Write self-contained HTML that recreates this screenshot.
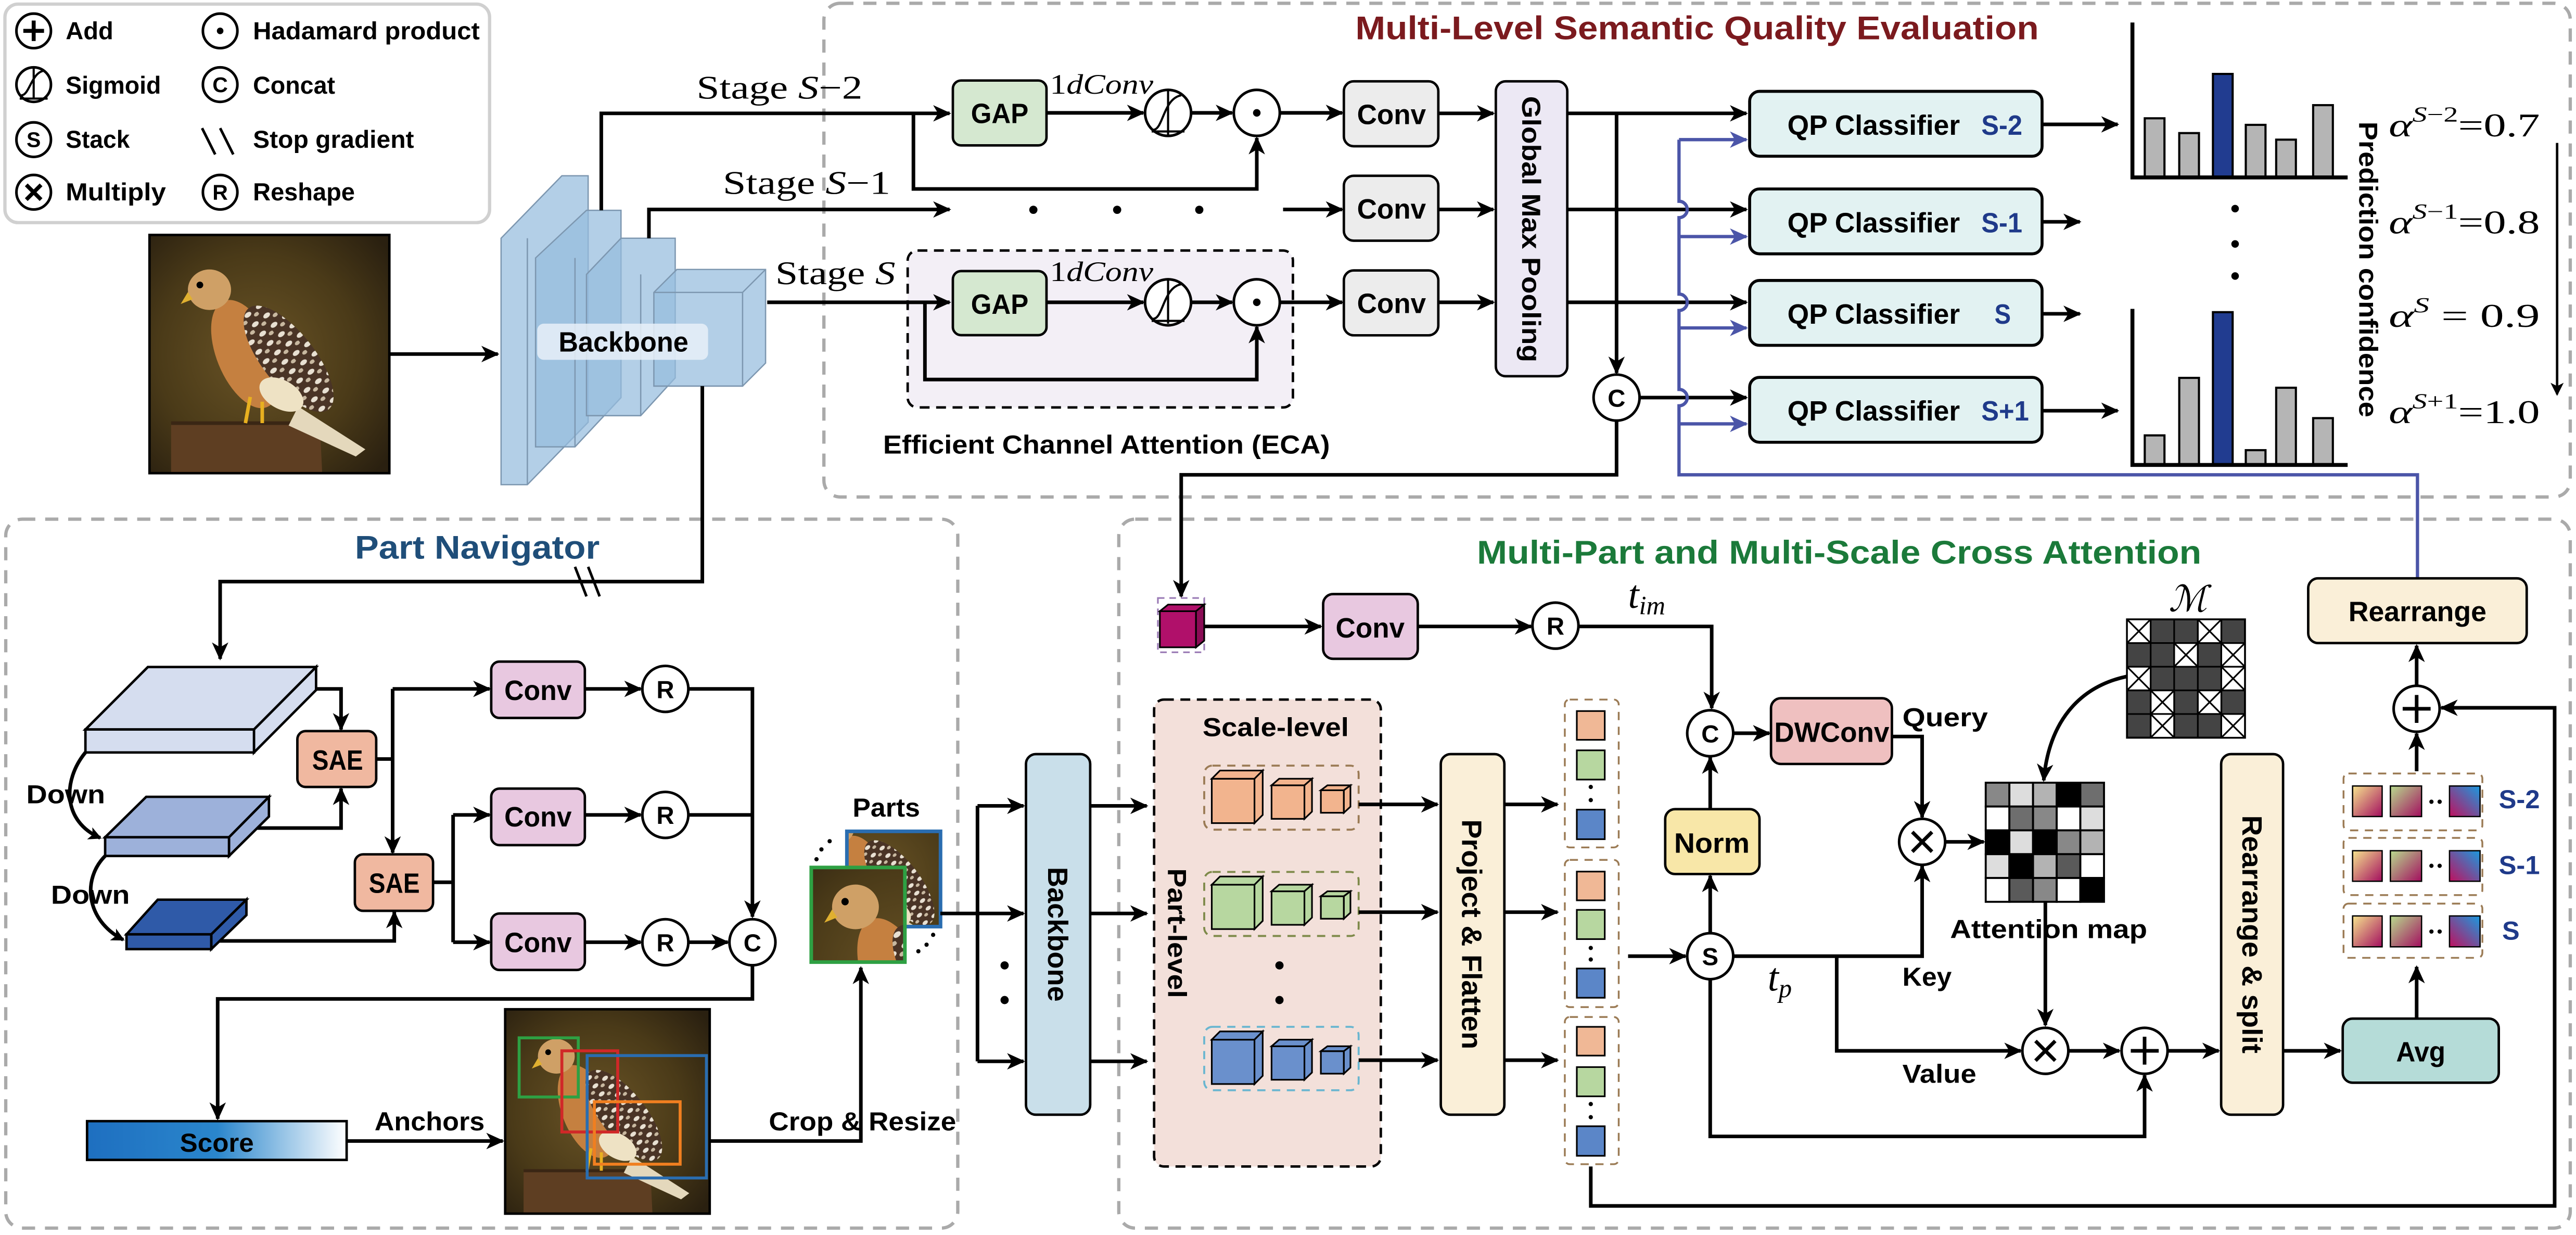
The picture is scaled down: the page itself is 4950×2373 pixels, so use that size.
<!DOCTYPE html>
<html><head><meta charset="utf-8"><style>
html,body{margin:0;padding:0;background:#fff;}
svg{display:block;}
.b{font-family:"Liberation Sans",sans-serif;font-weight:bold;}
.s{font-family:"Liberation Serif",serif;}
</style></head><body>
<svg width="4950" height="2373" viewBox="0 0 1568 751.7" preserveAspectRatio="none" xmlns="http://www.w3.org/2000/svg">
<defs>
<marker id="a" markerWidth="11" markerHeight="10" refX="10" refY="5" orient="auto" markerUnits="userSpaceOnUse"><path d="M0,0 L11,5 L0,10 L3,5 z" fill="#000"/></marker>
<marker id="ab" markerWidth="11" markerHeight="10" refX="10" refY="5" orient="auto" markerUnits="userSpaceOnUse"><path d="M0,0 L11,5 L0,10 L3,5 z" fill="#4b55a8"/></marker>
<marker id="at" markerWidth="8" markerHeight="8" refX="7" refY="4" orient="auto" markerUnits="userSpaceOnUse"><path d="M0,0 L8,4 L0,8 L2,4 z" fill="#000"/></marker>
<linearGradient id="sc" x1="0" x2="1" y1="0" y2="0"><stop offset="0" stop-color="#1e6fc0"/><stop offset="0.5" stop-color="#2a86cc"/><stop offset="1" stop-color="#ffffff"/></linearGradient>
<radialGradient id="bg" cx="0.45" cy="0.5" r="0.7"><stop offset="0" stop-color="#6a5426"/><stop offset="0.6" stop-color="#4a3a18"/><stop offset="1" stop-color="#2a2010"/></radialGradient>
<linearGradient id="g1" x1="0" y1="0" x2="1" y2="1"><stop offset="0" stop-color="#f6e58e"/><stop offset="1" stop-color="#a30d5e"/></linearGradient>
<linearGradient id="g2" x1="0" y1="0" x2="1" y2="1"><stop offset="0" stop-color="#b8dc8e"/><stop offset="1" stop-color="#a30d5e"/></linearGradient>
<linearGradient id="g3" x1="1" y1="0" x2="0" y2="1"><stop offset="0" stop-color="#1a9ae0"/><stop offset="1" stop-color="#c0105e"/></linearGradient>
<pattern id="spk" width="6" height="5" patternUnits="userSpaceOnUse"><rect width="6" height="5" fill="#4a3426"/><ellipse cx="2" cy="2" rx="1.6" ry="1" fill="#e8e0d2"/><ellipse cx="5" cy="4" rx="1.2" ry="0.8" fill="#c8b8a0"/></pattern>
<g id="bird">
<rect x="0" y="0" width="100" height="100" fill="url(#bg)"/>
<path d="M9,79 L71,79 L72,100 L9,100 z" fill="#5e3e22"/>
<path d="M9,79 L71,79" stroke="#3a2614" stroke-width="1.5"/>
<polygon points="62,72 90,90 86,93 58,80" fill="#e4d8bc"/>
<ellipse cx="40" cy="50" rx="12" ry="24" fill="#c58040" transform="rotate(-22 40 50)"/>
<ellipse cx="58" cy="52" rx="11" ry="27" fill="url(#spk)" transform="rotate(-38 58 52)"/>
<ellipse cx="55" cy="67" rx="10" ry="6" fill="#eee2c4" transform="rotate(30 55 67)"/>
<ellipse cx="25" cy="23" rx="9" ry="8.5" fill="#cfa066"/>
<path d="M16,24 L13,29 L18,27 z" fill="#e0b030"/>
<circle cx="21" cy="21" r="1.4" fill="#000"/>
<path d="M42,68 L40,79 M47,70 L47,79" stroke="#e8b020" stroke-width="1.5"/>
</g>
</defs>

<!-- Legend -->
<rect x="3" y="2.5" width="295" height="133" rx="8" fill="#fff" stroke="#d0d0d0" stroke-width="2"/>
<g fill="#fff" stroke="#000" stroke-width="1.6">
<circle cx="20.5" cy="18.8" r="10.5"/><circle cx="20.5" cy="51.5" r="10.5"/><circle cx="20.5" cy="85" r="10.5"/><circle cx="20.5" cy="117" r="10.5"/>
<circle cx="134" cy="18.8" r="10.5"/><circle cx="134" cy="51.5" r="10.5"/><circle cx="134" cy="117" r="10.5"/>
</g>
<path d="M20.5,12.5 V25 M14.2,18.8 H26.8" stroke="#000" stroke-width="2.4"/>
<circle cx="134" cy="18.8" r="2" fill="#000"/>
<path d="M12,60 H29 M20.5,41 V60 M13,58 C18,58 19,44 27,43" stroke="#000" stroke-width="1.3" fill="none"/>
<path d="M16,112.5 L25,121.5 M25,112.5 L16,121.5" stroke="#000" stroke-width="2.4"/>
<g class="b" font-size="13" text-anchor="middle"><text x="20.5" y="89.5">S</text><text x="134" y="56">C</text><text x="134" y="121.5">R</text></g>
<path d="M123,78 L131,94 M134,78 L142,94" stroke="#000" stroke-width="1.6"/>
<g class="b" font-size="15">
<text x="40" y="24" textLength="29" lengthAdjust="spacingAndGlyphs">Add</text>
<text x="154" y="24" textLength="138" lengthAdjust="spacingAndGlyphs">Hadamard product</text>
<text x="40" y="57" textLength="58" lengthAdjust="spacingAndGlyphs">Sigmoid</text>
<text x="154" y="57" textLength="50" lengthAdjust="spacingAndGlyphs">Concat</text>
<text x="40" y="90" textLength="39" lengthAdjust="spacingAndGlyphs">Stack</text>
<text x="154" y="90" textLength="98" lengthAdjust="spacingAndGlyphs">Stop gradient</text>
<text x="40" y="122" textLength="61" lengthAdjust="spacingAndGlyphs">Multiply</text>
<text x="154" y="122" textLength="62" lengthAdjust="spacingAndGlyphs">Reshape</text>
</g>

<!-- Boxes dashed -->
<rect x="501.5" y="2" width="1063" height="300.5" rx="10" fill="none" stroke="#aaa" stroke-width="2" stroke-dasharray="8,6"/>
<rect x="3.5" y="316" width="579.5" height="431.5" rx="10" fill="none" stroke="#aaa" stroke-width="2" stroke-dasharray="8,6"/>
<rect x="681" y="316" width="883.5" height="431.5" rx="10" fill="none" stroke="#aaa" stroke-width="2" stroke-dasharray="8,6"/>

<text class="b" x="825" y="24" font-size="20" fill="#7b1a1e" textLength="416" lengthAdjust="spacingAndGlyphs">Multi-Level Semantic Quality Evaluation</text>
<text class="b" x="216" y="340" font-size="20" fill="#1f4e79" textLength="149" lengthAdjust="spacingAndGlyphs">Part Navigator</text>
<text class="b" x="899" y="343" font-size="20" fill="#1b7a3a" textLength="441" lengthAdjust="spacingAndGlyphs">Multi-Part and Multi-Scale Cross Attention</text>

<!-- bird -->
<g transform="translate(91,143) scale(1.46,1.45)"><use href="#bird"/></g>
<rect x="91" y="143" width="146" height="145" fill="none" stroke="#000" stroke-width="1.5"/>
<path d="M237,215.5 H303" stroke="#000" stroke-width="2.2" marker-end="url(#a)"/>

<!-- Backbone slabs -->
<g fill="rgba(150,188,222,0.72)" stroke="#7d97b0" stroke-width="0.8">
<polygon points="305,145 342,107 358,107 358,257 321,295 305,295"/>
<polygon points="326,157 357,128 378,128 378,242 350,272 326,272"/>
<polygon points="357,167 378,145 411,145 411,230 390,253 357,253"/>
<polygon points="398,178 412,164 466,164 466,221 452,235 398,235"/>
</g>
<path d="M321,145 V295 M350,157 V272 M390,167 V253 M452,178 V235 H398 M398,178 H452 L466,164" stroke="#7d97b0" stroke-width="0.8" fill="none"/>
<rect x="327" y="197" width="104" height="22" rx="4" fill="rgba(232,240,248,0.85)"/>
<text class="b" x="340" y="214" font-size="17" textLength="79" lengthAdjust="spacingAndGlyphs">Backbone</text>

<!-- ECA box -->
<rect x="552.5" y="152.5" width="234.5" height="95.5" rx="6" fill="#f3eff6" stroke="#000" stroke-width="1.5" stroke-dasharray="6,4"/>
<text class="b" x="537.5" y="276" font-size="16" textLength="272" lengthAdjust="spacingAndGlyphs">Efficient Channel Attention (ECA)</text>

<!-- top lines -->
<g stroke="#000" stroke-width="2.2" fill="none">
<path d="M366,128 V69 H578" marker-end="url(#a)"/>
<path d="M556,69 V115 H765 V84" marker-end="url(#a)"/>
<path d="M395,145 V127.5 H578" marker-end="url(#a)"/>
<path d="M467,184 H578" marker-end="url(#a)"/>
<path d="M563,184 V231 H765 V199" marker-end="url(#a)"/>
<path d="M637,68.7 H696" marker-end="url(#a)"/>
<path d="M725,68.7 H750" marker-end="url(#a)"/>
<path d="M779,68.7 H817" marker-end="url(#a)"/>
<path d="M637,184 H696" marker-end="url(#a)"/>
<path d="M725,184 H750" marker-end="url(#a)"/>
<path d="M779,184 H817" marker-end="url(#a)"/>
<path d="M781,127.5 H817" marker-end="url(#a)"/>
<path d="M875.5,69 H909" marker-end="url(#a)"/>
<path d="M875.5,127.5 H909" marker-end="url(#a)"/>
<path d="M875.5,184 H909" marker-end="url(#a)"/>
<path d="M954,69 H1063" marker-end="url(#a)"/>
<path d="M954,127.5 H1063" marker-end="url(#a)"/>
<path d="M954,184 H1063" marker-end="url(#a)"/>
<path d="M984,69 V227" marker-end="url(#a)"/>
<path d="M998,242 H1063" marker-end="url(#a)"/>
<path d="M984,256 V289 H719 V363" marker-end="url(#a)"/>
<path d="M1243,75.7 H1289" marker-end="url(#a)"/>
<path d="M1243,135 H1266" marker-end="url(#a)"/>
<path d="M1243,191 H1266" marker-end="url(#a)"/>
<path d="M1243,250 H1289" marker-end="url(#a)"/>
</g>
<g fill="#000"><circle cx="629" cy="127.7" r="2.5"/><circle cx="680" cy="127.7" r="2.5"/><circle cx="730" cy="127.7" r="2.5"/></g>

<g class="s" font-size="20">
<text x="424" y="60" textLength="101" lengthAdjust="spacingAndGlyphs">Stage <tspan font-style="italic">S</tspan>−2</text>
<text x="440" y="118" textLength="102" lengthAdjust="spacingAndGlyphs">Stage <tspan font-style="italic">S</tspan>−1</text>
<text x="472" y="173" textLength="73" lengthAdjust="spacingAndGlyphs">Stage <tspan font-style="italic">S</tspan></text>
</g>
<g class="s" font-size="17" font-style="italic">
<text x="639" y="57" textLength="63" lengthAdjust="spacingAndGlyphs"><tspan font-style="normal">1</tspan>dConv</text>
<text x="639" y="171" textLength="63" lengthAdjust="spacingAndGlyphs"><tspan font-style="normal">1</tspan>dConv</text>
</g>

<!-- GAP -->
<g stroke="#000" stroke-width="1.5">
<rect x="580" y="49" width="57" height="39.5" rx="5" fill="#d5e8d0"/>
<rect x="580" y="165" width="57" height="39" rx="5" fill="#d5e8d0"/>
</g>
<g class="b" font-size="17"><text x="591" y="75" textLength="35" lengthAdjust="spacingAndGlyphs">GAP</text><text x="591" y="191" textLength="35" lengthAdjust="spacingAndGlyphs">GAP</text></g>
<!-- sigmoid & hadamard -->
<g fill="#fff" stroke="#000" stroke-width="1.6">
<circle cx="711" cy="68.7" r="14"/><circle cx="765" cy="68.7" r="14"/>
<circle cx="711" cy="184" r="14"/><circle cx="765" cy="184" r="14"/>
</g>
<path d="M701,80 H721 M711,55 V82 M702,79 C708,79 708,60 719,58 M701,195.3 H721 M711,170 V197 M702,194 C708,194 708,175 719,173" stroke="#000" stroke-width="1.3" fill="none"/>
<circle cx="765" cy="68.7" r="2.3"/><circle cx="765" cy="184" r="2.3"/>

<!-- Conv gray -->
<g stroke="#000" stroke-width="1.5" fill="#ececec">
<rect x="818" y="49.5" width="57.5" height="39.5" rx="6"/>
<rect x="818" y="107" width="57.5" height="39.5" rx="6"/>
<rect x="818" y="164.6" width="57.5" height="39.5" rx="6"/>
</g>
<g class="b" font-size="17"><text x="826" y="75.5" textLength="42" lengthAdjust="spacingAndGlyphs">Conv</text><text x="826" y="133" textLength="42" lengthAdjust="spacingAndGlyphs">Conv</text><text x="826" y="190.5" textLength="42" lengthAdjust="spacingAndGlyphs">Conv</text></g>

<rect x="910.5" y="49.5" width="43.5" height="179.5" rx="6" fill="#ece8f4" stroke="#000" stroke-width="1.5"/>
<text class="b" font-size="16" text-anchor="middle" transform="translate(926.5,139.5) rotate(90)" textLength="162" lengthAdjust="spacingAndGlyphs">Global Max Pooling</text>

<circle cx="984" cy="242" r="14" fill="#fff" stroke="#000" stroke-width="1.6"/>
<text class="b" x="984" y="247.5" font-size="15" text-anchor="middle">C</text>

<!-- blue -->
<path d="M1471.5,352 V289 H1022 V247 A5,5 0 0 0 1022,237 V189 A5,5 0 0 0 1022,179 V132.5 A5,5 0 0 0 1022,122.5 V85" stroke="#4b55a8" stroke-width="2" fill="none"/>
<g stroke="#4b55a8" stroke-width="2"><path d="M1022,85 H1063" marker-end="url(#ab)"/><path d="M1022,144 H1063" marker-end="url(#ab)"/><path d="M1022,199.6 H1063" marker-end="url(#ab)"/><path d="M1022,258 H1063" marker-end="url(#ab)"/></g>

<!-- QP -->
<g stroke="#000" stroke-width="1.8" fill="#e2f2f2">
<rect x="1065" y="55.6" width="178" height="39.5" rx="6"/>
<rect x="1065" y="115" width="178" height="39.5" rx="6"/>
<rect x="1065" y="170.7" width="178" height="39.5" rx="6"/>
<rect x="1065" y="229.7" width="178" height="39.5" rx="6"/>
</g>
<g class="b" font-size="17">
<text x="1088" y="82" textLength="105" lengthAdjust="spacingAndGlyphs">QP Classifier</text>
<text x="1088" y="141.5" textLength="105" lengthAdjust="spacingAndGlyphs">QP Classifier</text>
<text x="1088" y="197" textLength="105" lengthAdjust="spacingAndGlyphs">QP Classifier</text>
<text x="1088" y="256" textLength="105" lengthAdjust="spacingAndGlyphs">QP Classifier</text>
</g>
<g class="b" font-size="17" fill="#1f3a8a">
<text x="1206" y="82" textLength="25" lengthAdjust="spacingAndGlyphs">S-2</text>
<text x="1206" y="141.5" textLength="25" lengthAdjust="spacingAndGlyphs">S-1</text>
<text x="1214" y="197" textLength="10" lengthAdjust="spacingAndGlyphs">S</text>
<text x="1206" y="256" textLength="29" lengthAdjust="spacingAndGlyphs">S+1</text>
</g>

<!-- charts -->
<g stroke="#000" stroke-width="1.3">
<g fill="#b5b5b5"><rect x="1305.5" y="72" width="12" height="36"/><rect x="1326.5" y="81" width="12" height="27"/><rect x="1367" y="76" width="12" height="32"/><rect x="1385.5" y="85" width="12" height="23"/><rect x="1408" y="64" width="12" height="44"/></g>
<rect x="1347" y="45" width="12" height="63" fill="#213c90"/>
<g fill="#b5b5b5"><rect x="1305.5" y="265" width="12" height="18"/><rect x="1326.5" y="230" width="12" height="53"/><rect x="1367" y="274" width="12" height="9"/><rect x="1385.5" y="236" width="12" height="47"/><rect x="1408" y="254.5" width="12" height="28.5"/></g>
<rect x="1347" y="190" width="12" height="93" fill="#213c90"/>
</g>
<path d="M1298,13.7 V108 H1429 M1298,188 V283 H1429" stroke="#000" stroke-width="2.4" fill="none"/>
<g fill="#000"><circle cx="1360.5" cy="127" r="2.3"/><circle cx="1360.5" cy="148.5" r="2.3"/><circle cx="1360.5" cy="168" r="2.3"/></g>
<text class="b" font-size="16" text-anchor="middle" transform="translate(1436,164) rotate(90)" textLength="180" lengthAdjust="spacingAndGlyphs">Prediction confidence</text>
<g class="s" font-size="20">
<text x="1454" y="83" textLength="92" lengthAdjust="spacingAndGlyphs"><tspan font-style="italic">α</tspan><tspan font-size="13" dy="-9"><tspan font-style="italic">S</tspan>−2</tspan><tspan dy="9">=0.7</tspan></text>
<text x="1454" y="142" textLength="92" lengthAdjust="spacingAndGlyphs"><tspan font-style="italic">α</tspan><tspan font-size="13" dy="-9"><tspan font-style="italic">S</tspan>−1</tspan><tspan dy="9">=0.8</tspan></text>
<text x="1454" y="199" textLength="92" lengthAdjust="spacingAndGlyphs"><tspan font-style="italic">α</tspan><tspan font-size="13" dy="-9" font-style="italic">S</tspan><tspan dy="9">  =  0.9</tspan></text>
<text x="1454" y="257.5" textLength="92" lengthAdjust="spacingAndGlyphs"><tspan font-style="italic">α</tspan><tspan font-size="13" dy="-9"><tspan font-style="italic">S</tspan>+1</tspan><tspan dy="9">=1.0</tspan></text>
</g>
<path d="M1556.5,87 V240" stroke="#000" stroke-width="1.5" marker-end="url(#at)"/>

<!-- ============ Part Navigator ============ -->
<g stroke="#000" stroke-width="2.2" fill="none">
<path d="M427.5,235 V354 H134 V401" marker-end="url(#a)"/>
<path d="M192.4,419.3 H207.6 V444" marker-end="url(#a)"/>
<path d="M156,504 H207.6 V480" marker-end="url(#a)"/>
<path d="M229,462 H239"/>
<path d="M239,419.3 V519" marker-end="url(#a)"/>
<path d="M239,419.3 H298" marker-end="url(#a)"/>
<path d="M132.5,572.7 H240 V555" marker-end="url(#a)"/>
<path d="M263.6,537 H275.8"/>
<path d="M275.8,496 V573.5"/>
<path d="M275.8,496 H298" marker-end="url(#a)"/>
<path d="M275.8,573.5 H298" marker-end="url(#a)"/>
<path d="M356,419.3 H390" marker-end="url(#a)"/>
<path d="M356,496 H390" marker-end="url(#a)"/>
<path d="M356,573.5 H390" marker-end="url(#a)"/>
<path d="M419,419.3 H458 V558" marker-end="url(#a)"/>
<path d="M419,496 H458"/>
<path d="M419,573.5 H443" marker-end="url(#a)"/>
<path d="M458,587.5 V608 H132.5 V681" marker-end="url(#a)"/>
<path d="M211,694.5 H306" marker-end="url(#a)"/>
<path d="M432,694.5 H524 V589" marker-end="url(#a)"/>
<path d="M52,458 C38,475 38,500 61,510" marker-end="url(#at)"/>
<path d="M64,521 C50,535 52,560 75,572" marker-end="url(#at)"/>
</g>
<path d="M350,345 L357,363 M358,345 L365,363" stroke="#000" stroke-width="1.6"/>

<!-- slabs -->
<g stroke="#000" stroke-width="1.5">
<polygon points="52,444 90,406 192.4,406 154.6,444" fill="#d5ddef"/>
<polygon points="154.6,444 192.4,406 192.4,420 154.6,458" fill="#d5ddef"/>
<rect x="52" y="444" width="102.6" height="14" fill="#d5ddef"/>
<polygon points="64,509.6 89,485 163.7,485 139.4,509.6" fill="#9db1da"/>
<polygon points="139.4,509.6 163.7,485 163.7,497 139.4,521" fill="#9db1da"/>
<rect x="64" y="509.6" width="75.4" height="11.4" fill="#9db1da"/>
<polygon points="77,568.7 96,547.6 150,547.6 128.6,568.7" fill="#2f5aa8"/>
<polygon points="128.6,568.7 150,547.6 150,557 128.6,577.7" fill="#2f5aa8"/>
<rect x="77" y="568.7" width="51.6" height="9" fill="#2f5aa8"/>
</g>
<g class="b" font-size="16"><text x="16" y="489" textLength="48" lengthAdjust="spacingAndGlyphs">Down</text><text x="31" y="550" textLength="48" lengthAdjust="spacingAndGlyphs">Down</text></g>

<g stroke="#000" stroke-width="1.5">
<rect x="181" y="445" width="48" height="34" rx="5" fill="#f0b8a0"/>
<rect x="216" y="520" width="47.6" height="34.4" rx="5" fill="#f0b8a0"/>
<rect x="299" y="402.7" width="57" height="34.3" rx="5" fill="#e8c8e0"/>
<rect x="299" y="480" width="57" height="34.4" rx="5" fill="#e8c8e0"/>
<rect x="299" y="556" width="57" height="34.4" rx="5" fill="#e8c8e0"/>
</g>
<g class="b" font-size="17">
<text x="190" y="468.5" textLength="31" lengthAdjust="spacingAndGlyphs">SAE</text>
<text x="224.5" y="543.5" textLength="31" lengthAdjust="spacingAndGlyphs">SAE</text>
<text x="307" y="426" textLength="41" lengthAdjust="spacingAndGlyphs">Conv</text>
<text x="307" y="503" textLength="41" lengthAdjust="spacingAndGlyphs">Conv</text>
<text x="307" y="579.5" textLength="41" lengthAdjust="spacingAndGlyphs">Conv</text>
</g>
<g fill="#fff" stroke="#000" stroke-width="1.6">
<circle cx="405" cy="419.3" r="14"/><circle cx="405" cy="496" r="14"/><circle cx="405" cy="573.5" r="14"/><circle cx="458" cy="573.5" r="14"/>
</g>
<g class="b" font-size="15" text-anchor="middle"><text x="405" y="425">R</text><text x="405" y="501.5">R</text><text x="405" y="579">R</text><text x="458" y="579">C</text></g>

<rect x="53" y="682.4" width="158" height="23.6" fill="url(#sc)" stroke="#000" stroke-width="1.5"/>
<text class="b" x="132" y="701" font-size="16" text-anchor="middle" textLength="45" lengthAdjust="spacingAndGlyphs">Score</text>
<text class="b" x="228" y="688" font-size="16" textLength="67" lengthAdjust="spacingAndGlyphs">Anchors</text>
<text class="b" x="468" y="688" font-size="16" textLength="114" lengthAdjust="spacingAndGlyphs">Crop &amp; Resize</text>

<g transform="translate(307.5,614.3) scale(1.245,1.244)"><use href="#bird"/></g>
<rect x="307.5" y="614.3" width="124.5" height="124.4" fill="none" stroke="#000" stroke-width="1.5"/>
<g fill="none" stroke-width="1.8">
<rect x="316" y="631.7" width="36" height="36" stroke="#2ea043"/>
<rect x="342" y="639.6" width="34" height="49.4" stroke="#d02828"/>
<rect x="357.4" y="642.5" width="72.6" height="74.5" stroke="#2a6db0"/>
<rect x="361.8" y="670.6" width="52.2" height="38" stroke="#f07f20"/>
</g>

<!-- parts -->
<svg x="515.5" y="506" width="57" height="58" viewBox="30 25 50 50" preserveAspectRatio="none"><use href="#bird"/></svg>
<rect x="515.5" y="506" width="57" height="58" fill="none" stroke="#2a6db0" stroke-width="2.2"/>
<svg x="493.8" y="528" width="57" height="57.6" viewBox="8 8 36 36" preserveAspectRatio="none"><use href="#bird"/></svg>
<rect x="493.8" y="528" width="57" height="57.6" fill="none" stroke="#2ea043" stroke-width="2.2"/>
<text class="b" x="519" y="497" font-size="16" textLength="41" lengthAdjust="spacingAndGlyphs">Parts</text>
<g fill="#000"><circle cx="497" cy="523" r="1.3"/><circle cx="500" cy="517" r="1.3"/><circle cx="505" cy="512" r="1.3"/><circle cx="559" cy="579" r="1.3"/><circle cx="564" cy="575" r="1.3"/><circle cx="568" cy="569" r="1.3"/></g>

<g stroke="#000" stroke-width="2.2" fill="none">
<path d="M572.4,556 H623" marker-end="url(#a)"/>
<path d="M595,490.5 V646"/>
<path d="M595,490.5 H623" marker-end="url(#a)"/>
<path d="M595,646 H623" marker-end="url(#a)"/>
</g>
<g fill="#000"><circle cx="611.5" cy="587.6" r="2.5"/><circle cx="611.5" cy="608.7" r="2.5"/></g>
<rect x="624.5" y="459" width="39.1" height="219.5" rx="6" fill="#c9dfea" stroke="#000" stroke-width="1.5"/>
<text class="b" font-size="17" text-anchor="middle" transform="translate(638,568.7) rotate(90)" textLength="82" lengthAdjust="spacingAndGlyphs">Backbone</text>

<!-- ============ MPMS ============ -->
<g stroke="#000" stroke-width="2.2" fill="none">
<path d="M663.6,490.5 H698" marker-end="url(#a)"/>
<path d="M663.6,556 H698" marker-end="url(#a)"/>
<path d="M663.6,646 H698" marker-end="url(#a)"/>
</g>
<rect x="702.5" y="425.8" width="138" height="284.2" rx="6" fill="#f3e0da" stroke="#000" stroke-width="1.5" stroke-dasharray="6,4"/>
<text class="b" x="732" y="448" font-size="16" textLength="89" lengthAdjust="spacingAndGlyphs">Scale-level</text>
<text class="b" font-size="16" text-anchor="middle" transform="translate(711,568) rotate(90)" textLength="79" lengthAdjust="spacingAndGlyphs">Part-level</text>

<g fill="none" stroke-width="1.2" stroke-dasharray="5,4">
<rect x="733" y="466" width="94" height="39" rx="5" stroke="#9b7b55"/>
<rect x="733" y="530.7" width="94" height="39" rx="5" stroke="#7e8a4a"/>
<rect x="733" y="625" width="94" height="38.6" rx="5" stroke="#6ab6d0"/>
</g>
<g stroke="#000" stroke-width="1">
<g fill="#f2b48e">
<rect x="737.6" y="474" width="26" height="27"/><polygon points="737.6,474 742.6,469 768.6,469 763.6,474"/><polygon points="763.6,474 768.6,469 768.6,496 763.6,501"/>
<rect x="774" y="478" width="20" height="20.4"/><polygon points="774,478 778.6,474 798.6,474 794,478"/><polygon points="794,478 798.6,474 798.6,494 794,498.4"/>
<rect x="804" y="481" width="14" height="13.7"/><polygon points="804,481 808,478 822,478 818,481"/><polygon points="818,481 822,478 822,491 818,494.7"/>
</g>
<g fill="#b7d7a0" transform="translate(0,64.5)">
<rect x="737.6" y="474" width="26" height="27"/><polygon points="737.6,474 742.6,469 768.6,469 763.6,474"/><polygon points="763.6,474 768.6,469 768.6,496 763.6,501"/>
<rect x="774" y="478" width="20" height="20.4"/><polygon points="774,478 778.6,474 798.6,474 794,478"/><polygon points="794,478 798.6,474 798.6,494 794,498.4"/>
<rect x="804" y="481" width="14" height="13.7"/><polygon points="804,481 808,478 822,478 818,481"/><polygon points="818,481 822,478 822,491 818,494.7"/>
</g>
<g fill="#6a90cc" transform="translate(0,158.8)">
<rect x="737.6" y="474" width="26" height="27"/><polygon points="737.6,474 742.6,469 768.6,469 763.6,474"/><polygon points="763.6,474 768.6,469 768.6,496 763.6,501"/>
<rect x="774" y="478" width="20" height="20.4"/><polygon points="774,478 778.6,474 798.6,474 794,478"/><polygon points="794,478 798.6,474 798.6,494 794,498.4"/>
<rect x="804" y="481" width="14" height="13.7"/><polygon points="804,481 808,478 822,478 818,481"/><polygon points="818,481 822,478 822,491 818,494.7"/>
</g>
</g>
<g fill="#000"><circle cx="778.8" cy="587.6" r="2.5"/><circle cx="778.8" cy="608.7" r="2.5"/></g>
<g stroke="#000" stroke-width="2.2" fill="none">
<path d="M827,489.6 H875" marker-end="url(#a)"/>
<path d="M827,555.2 H875" marker-end="url(#a)"/>
<path d="M827,645.3 H875" marker-end="url(#a)"/>
<path d="M915.7,489.6 H948" marker-end="url(#a)"/>
<path d="M915.7,555.2 H948" marker-end="url(#a)"/>
<path d="M915.7,645.3 H948" marker-end="url(#a)"/>
</g>
<rect x="877" y="459" width="38.7" height="219.5" rx="6" fill="#faefd8" stroke="#000" stroke-width="1.5"/>
<text class="b" font-size="17" text-anchor="middle" transform="translate(890,568.7) rotate(90)" textLength="140" lengthAdjust="spacingAndGlyphs">Project &amp; Flatten</text>

<!-- tokens -->
<g fill="none" stroke="#9b7b55" stroke-width="1.1" stroke-dasharray="5,4">
<rect x="952.5" y="425.8" width="32.8" height="90" rx="3"/>
<rect x="952.5" y="523.4" width="32.8" height="89.6" rx="3"/>
<rect x="952.5" y="619" width="32.8" height="89.6" rx="3"/>
</g>
<g stroke="#000" stroke-width="1">
<rect x="959.8" y="432.8" width="17" height="17.5" fill="#f0b896"/><rect x="959.8" y="456.7" width="17" height="17.8" fill="#b7d7a0"/><rect x="959.8" y="492.8" width="17" height="18" fill="#5b86c8"/>
<rect x="959.8" y="530.5" width="17" height="17.5" fill="#f0b896"/><rect x="959.8" y="553.8" width="17" height="17.8" fill="#b7d7a0"/><rect x="959.8" y="589.5" width="17" height="17.8" fill="#5b86c8"/>
<rect x="959.8" y="625" width="17" height="17.5" fill="#f0b896"/><rect x="959.8" y="649.5" width="17" height="17.8" fill="#b7d7a0"/><rect x="959.8" y="685.5" width="17" height="18" fill="#5b86c8"/>
</g>
<g fill="#000"><circle cx="968.3" cy="479" r="1.3"/><circle cx="968.3" cy="487" r="1.3"/><circle cx="968.3" cy="577" r="1.3"/><circle cx="968.3" cy="584" r="1.3"/><circle cx="968.3" cy="672" r="1.3"/><circle cx="968.3" cy="680" r="1.3"/></g>

<!-- cross attention lines -->
<g stroke="#000" stroke-width="2.2" fill="none">
<path d="M991,582 H1026" marker-end="url(#a)"/>
<path d="M1041,568 V533" marker-end="url(#a)"/>
<path d="M1041,492.5 V461" marker-end="url(#a)"/>
<path d="M733,381.3 H804" marker-end="url(#a)"/>
<path d="M863,381.3 H932" marker-end="url(#a)"/>
<path d="M961,381.3 H1041.9 V431" marker-end="url(#a)"/>
<path d="M1055.4,446.3 H1077" marker-end="url(#a)"/>
<path d="M1151.6,448.3 H1170 V497.5" marker-end="url(#a)"/>
<path d="M1184,512.4 H1207.5" marker-end="url(#a)"/>
<path d="M1055,582 H1170 V527" marker-end="url(#a)"/>
<path d="M1118,582 V639.6 H1230" marker-end="url(#a)"/>
<path d="M1245,549 V624" marker-end="url(#a)"/>
<path d="M1259,639.6 H1290" marker-end="url(#a)"/>
<path d="M1041,596 V691.7 H1305.4 V654.5" marker-end="url(#a)"/>
<path d="M1319.4,639.6 H1350.5" marker-end="url(#a)"/>
<path d="M1389.7,639.6 H1424.5" marker-end="url(#a)"/>
<path d="M1471,620 V588.5" marker-end="url(#a)"/>
<path d="M1471,469.4 V446.5" marker-end="url(#a)"/>
<path d="M1471,417.4 V393" marker-end="url(#a)"/>
<path d="M968.3,710 V734 H1555 V430.8 H1486" marker-end="url(#a)"/>
<path d="M1294.7,411.7 C1265,418 1247,440 1244,475" marker-end="url(#a)"/>
</g>

<!-- magenta cube -->
<rect x="704.8" y="364" width="28.2" height="33" fill="none" stroke="#9a7ab5" stroke-width="1" stroke-dasharray="4,3"/>
<g stroke="#000" stroke-width="1">
<rect x="706" y="372" width="22" height="22" fill="#b0106a"/>
<polygon points="706,372 711,368 733,368 728,372" fill="#b0106a"/>
<polygon points="728,372 733,368 733,390 728,394" fill="#8a0c55"/>
</g>
<rect x="805.4" y="361.6" width="57.6" height="39.4" rx="6" fill="#e8c8e0" stroke="#000" stroke-width="1.5"/>
<text class="b" x="813" y="388" font-size="17" textLength="42" lengthAdjust="spacingAndGlyphs">Conv</text>
<g fill="#fff" stroke="#000" stroke-width="1.6">
<circle cx="946.8" cy="380.8" r="14"/><circle cx="1041" cy="446.3" r="14"/><circle cx="1041" cy="582" r="14"/>
<circle cx="1170" cy="512.4" r="14"/><circle cx="1245" cy="639.6" r="14"/><circle cx="1305.4" cy="639.6" r="14"/><circle cx="1471" cy="431.4" r="14"/>
</g>
<g class="b" font-size="15" text-anchor="middle"><text x="946.8" y="386.3">R</text><text x="1041" y="451.8">C</text><text x="1041" y="587.5">S</text></g>
<path d="M1164,506.4 L1176,518.4 M1176,506.4 L1164,518.4 M1239,633.6 L1251,645.6 M1251,633.6 L1239,645.6 M1305.4,631 V648 M1297,639.6 H1314 M1471,423 V440 M1462.5,431.4 H1479.5" stroke="#000" stroke-width="2.2"/>

<g class="s" font-style="italic" font-size="24">
<text x="991" y="370">t<tspan font-size="16" dy="4">im</tspan></text>
<text x="1076" y="603">t<tspan font-size="16" dy="4">p</tspan></text>
<text x="1320" y="372" font-size="22">ℳ</text>
</g>

<rect x="1013.6" y="492.5" width="57.4" height="39.5" rx="6" fill="#f8e7a8" stroke="#000" stroke-width="1.5"/>
<text class="b" x="1019" y="519" font-size="17" textLength="46" lengthAdjust="spacingAndGlyphs">Norm</text>
<rect x="1078" y="425" width="73.6" height="40" rx="6" fill="#efc0c0" stroke="#000" stroke-width="1.5"/>
<text class="b" x="1080" y="451.5" font-size="17" textLength="70" lengthAdjust="spacingAndGlyphs">DWConv</text>
<g class="b" font-size="16">
<text x="1158" y="442" textLength="52" lengthAdjust="spacingAndGlyphs">Query</text>
<text x="1158" y="600" textLength="30" lengthAdjust="spacingAndGlyphs">Key</text>
<text x="1158" y="659" textLength="45" lengthAdjust="spacingAndGlyphs">Value</text>
<text x="1187" y="571" textLength="120" lengthAdjust="spacingAndGlyphs">Attention map</text>
</g>

<!-- attention map -->
<g stroke="#000" stroke-width="1.2">
<rect x="1208.7" y="476.4" width="14.4" height="14.5" fill="#888"/><rect x="1223.1" y="476.4" width="14.4" height="14.5" fill="#ddd"/><rect x="1237.5" y="476.4" width="14.4" height="14.5" fill="#b3b3b3"/><rect x="1251.9" y="476.4" width="14.4" height="14.5" fill="#000"/><rect x="1266.3" y="476.4" width="14.4" height="14.5" fill="#6e6e6e"/>
<rect x="1208.7" y="490.9" width="14.4" height="14.5" fill="#fff"/><rect x="1223.1" y="490.9" width="14.4" height="14.5" fill="#6e6e6e"/><rect x="1237.5" y="490.9" width="14.4" height="14.5" fill="#888"/><rect x="1251.9" y="490.9" width="14.4" height="14.5" fill="#fff"/><rect x="1266.3" y="490.9" width="14.4" height="14.5" fill="#ddd"/>
<rect x="1208.7" y="505.4" width="14.4" height="14.5" fill="#000"/><rect x="1223.1" y="505.4" width="14.4" height="14.5" fill="#ddd"/><rect x="1237.5" y="505.4" width="14.4" height="14.5" fill="#000"/><rect x="1251.9" y="505.4" width="14.4" height="14.5" fill="#888"/><rect x="1266.3" y="505.4" width="14.4" height="14.5" fill="#b3b3b3"/>
<rect x="1208.7" y="519.9" width="14.4" height="14.5" fill="#ddd"/><rect x="1223.1" y="519.9" width="14.4" height="14.5" fill="#000"/><rect x="1237.5" y="519.9" width="14.4" height="14.5" fill="#b3b3b3"/><rect x="1251.9" y="519.9" width="14.4" height="14.5" fill="#5a5a5a"/><rect x="1266.3" y="519.9" width="14.4" height="14.5" fill="#fff"/>
<rect x="1208.7" y="534.4" width="14.4" height="14.5" fill="#fff"/><rect x="1223.1" y="534.4" width="14.4" height="14.5" fill="#5a5a5a"/><rect x="1237.5" y="534.4" width="14.4" height="14.5" fill="#888"/><rect x="1251.9" y="534.4" width="14.4" height="14.5" fill="#fff"/><rect x="1266.3" y="534.4" width="14.4" height="14.5" fill="#000"/>
</g>
<!-- mask M -->
<rect x="1294.7" y="377" width="71.8" height="72" fill="#444" stroke="#000" stroke-width="1.2"/>
<g stroke="#000" stroke-width="1" fill="#fff">
<path d="M1294.7,377h14.36v14.4h-14.36z M1337.8,377h14.36v14.4h-14.36z M1323.4,391.4h14.36v14.4h-14.36z M1352.1,391.4h14.36v14.4h-14.36z M1294.7,405.8h14.36v14.4h-14.36z M1352.1,405.8h14.36v14.4h-14.36z M1309.1,420.2h14.36v14.4h-14.36z M1337.8,420.2h14.36v14.4h-14.36z M1309.1,434.6h14.36v14.4h-14.36z M1352.1,434.6h14.36v14.4h-14.36z"/>
<path d="M1294.7,377l14.36,14.4m0,-14.4l-14.36,14.4 M1337.8,377l14.36,14.4m0,-14.4l-14.36,14.4 M1323.4,391.4l14.36,14.4m0,-14.4l-14.36,14.4 M1352.1,391.4l14.36,14.4m0,-14.4l-14.36,14.4 M1294.7,405.8l14.36,14.4m0,-14.4l-14.36,14.4 M1352.1,405.8l14.36,14.4m0,-14.4l-14.36,14.4 M1309.1,420.2l14.36,14.4m0,-14.4l-14.36,14.4 M1337.8,420.2l14.36,14.4m0,-14.4l-14.36,14.4 M1309.1,434.6l14.36,14.4m0,-14.4l-14.36,14.4 M1352.1,434.6l14.36,14.4m0,-14.4l-14.36,14.4" fill="none"/>
<path d="M1294.7,391.4H1366.5M1294.7,405.8H1366.5M1294.7,420.2H1366.5M1294.7,434.6H1366.5M1309.1,377V449M1323.4,377V449M1337.8,377V449M1352.1,377V449" fill="none"/>
</g>

<rect x="1352" y="459" width="37.7" height="219.5" rx="6" fill="#faefd8" stroke="#000" stroke-width="1.5"/>
<text class="b" font-size="17" text-anchor="middle" transform="translate(1365,568.7) rotate(90)" textLength="145" lengthAdjust="spacingAndGlyphs">Rearrange &amp; split</text>
<rect x="1426" y="620" width="95" height="39" rx="6" fill="#b5dcd8" stroke="#000" stroke-width="1.5"/>
<text class="b" x="1473.5" y="646" font-size="17" text-anchor="middle" textLength="30" lengthAdjust="spacingAndGlyphs">Avg</text>
<rect x="1405" y="352" width="133" height="39.4" rx="6" fill="#faefd8" stroke="#000" stroke-width="1.5"/>
<text class="b" x="1471.5" y="378" font-size="17" text-anchor="middle" textLength="84" lengthAdjust="spacingAndGlyphs">Rearrange</text>

<!-- gradient groups -->
<g fill="none" stroke="#9b7b55" stroke-width="1.1" stroke-dasharray="5,4">
<rect x="1426.5" y="470.8" width="84.5" height="34.6" rx="3"/>
<rect x="1426.5" y="510" width="84.5" height="34.8" rx="3"/>
<rect x="1426.5" y="550" width="84.5" height="33" rx="3"/>
</g>
<g stroke="#000" stroke-width="0.8">
<rect x="1432" y="478.4" width="18" height="18.6" fill="url(#g1)"/><rect x="1455" y="478.4" width="19" height="18.6" fill="url(#g2)"/><rect x="1491" y="478.4" width="18.6" height="18.6" fill="url(#g3)"/>
<rect x="1432" y="517.8" width="18" height="18.6" fill="url(#g1)"/><rect x="1455" y="517.8" width="19" height="18.6" fill="url(#g2)"/><rect x="1491" y="517.8" width="18.6" height="18.6" fill="url(#g3)"/>
<rect x="1432" y="557.5" width="18" height="18.8" fill="url(#g1)"/><rect x="1455" y="557.5" width="19" height="18.8" fill="url(#g2)"/><rect x="1491" y="557.5" width="18.6" height="18.8" fill="url(#g3)"/>
</g>
<g fill="#000"><circle cx="1480" cy="488" r="1.3"/><circle cx="1485" cy="488" r="1.3"/><circle cx="1480" cy="527" r="1.3"/><circle cx="1485" cy="527" r="1.3"/><circle cx="1480" cy="567" r="1.3"/><circle cx="1485" cy="567" r="1.3"/></g>
<g class="b" font-size="16" fill="#1f3a8a">
<text x="1521" y="492" textLength="25" lengthAdjust="spacingAndGlyphs">S-2</text>
<text x="1521" y="532" textLength="25" lengthAdjust="spacingAndGlyphs">S-1</text>
<text x="1523" y="572">S</text>
</g>
</svg>
</body></html>
